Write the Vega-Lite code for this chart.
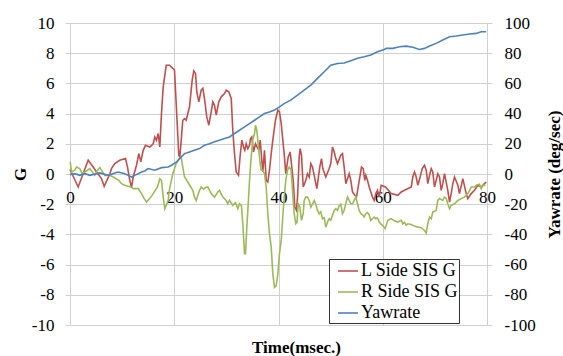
{
  "$schema": "https://vega.github.io/schema/vega-lite/v6.json",
  "width": 417,
  "height": 302,
  "autosize": {"type": "none"},
  "padding": {"left": 70, "top": 23, "right": 76, "bottom": 31},
  "background": "white",
  "config": {
    "view": {"stroke": null},
    "font": "Times New Roman, DejaVu Serif, serif",
    "axis": {
      "labelFont": "Times New Roman, DejaVu Serif, serif",
      "labelFontSize": 17,
      "labelColor": "#000",
      "labelFlush": false,
      "titleFont": "Times New Roman, DejaVu Serif, serif",
      "titleFontSize": 17,
      "titleFontWeight": "bold",
      "titleColor": "#000",
      "gridColor": "#d0d0d0",
      "gridWidth": 1,
      "tickColor": "#d0d0d0",
      "domain": false
    },
    "legend": {
      "labelFont": "Times New Roman, DejaVu Serif, serif"
    }
  },
  "datasets": {
    "sis": [
      {"time": 0, "series": "L Side SIS G", "value": 0.3},
      {"time": 1.57, "series": "L Side SIS G", "value": -0.86},
      {"time": 3.49, "series": "L Side SIS G", "value": 0.91},
      {"time": 4.45, "series": "L Side SIS G", "value": 0.46},
      {"time": 5.08, "series": "L Side SIS G", "value": 0.13},
      {"time": 6.04, "series": "L Side SIS G", "value": -0.3},
      {"time": 6.56, "series": "L Side SIS G", "value": -0.82},
      {"time": 7.64, "series": "L Side SIS G", "value": 0},
      {"time": 7.96, "series": "L Side SIS G", "value": 0.36},
      {"time": 8.59, "series": "L Side SIS G", "value": 0.69},
      {"time": 9.55, "series": "L Side SIS G", "value": 0.91},
      {"time": 10.65, "series": "L Side SIS G", "value": 1.02},
      {"time": 11.03, "series": "L Side SIS G", "value": 0.46},
      {"time": 11.47, "series": "L Side SIS G", "value": -0.42},
      {"time": 11.8, "series": "L Side SIS G", "value": -0.9},
      {"time": 12.12, "series": "L Side SIS G", "value": -0.2},
      {"time": 12.76, "series": "L Side SIS G", "value": 0.58},
      {"time": 13.2, "series": "L Side SIS G", "value": 1.35},
      {"time": 13.58, "series": "L Side SIS G", "value": 0.8},
      {"time": 14.04, "series": "L Side SIS G", "value": 1.57},
      {"time": 14.48, "series": "L Side SIS G", "value": 1.9},
      {"time": 15.31, "series": "L Side SIS G", "value": 1.79},
      {"time": 15.96, "series": "L Side SIS G", "value": 2.0},
      {"time": 16.27, "series": "L Side SIS G", "value": 2.45},
      {"time": 16.59, "series": "L Side SIS G", "value": 2.24},
      {"time": 16.92, "series": "L Side SIS G", "value": 2.68},
      {"time": 17.23, "series": "L Side SIS G", "value": 1.79},
      {"time": 17.55, "series": "L Side SIS G", "value": 4.0},
      {"time": 17.88, "series": "L Side SIS G", "value": 5.77},
      {"time": 18.46, "series": "L Side SIS G", "value": 7.2},
      {"time": 19.09, "series": "L Side SIS G", "value": 7.2},
      {"time": 19.72, "series": "L Side SIS G", "value": 7.0},
      {"time": 20.05, "series": "L Side SIS G", "value": 6.88},
      {"time": 20.87, "series": "L Side SIS G", "value": 1.24},
      {"time": 21.07, "series": "L Side SIS G", "value": 1.13},
      {"time": 21.64, "series": "L Side SIS G", "value": 3.56},
      {"time": 21.97, "series": "L Side SIS G", "value": 3.67},
      {"time": 22.29, "series": "L Side SIS G", "value": 3.56},
      {"time": 22.93, "series": "L Side SIS G", "value": 4.45},
      {"time": 23.44, "series": "L Side SIS G", "value": 6.22},
      {"time": 23.75, "series": "L Side SIS G", "value": 6.83},
      {"time": 24.08, "series": "L Side SIS G", "value": 6.66},
      {"time": 24.33, "series": "L Side SIS G", "value": 5.44},
      {"time": 24.71, "series": "L Side SIS G", "value": 4.78},
      {"time": 25.17, "series": "L Side SIS G", "value": 5.55},
      {"time": 25.48, "series": "L Side SIS G", "value": 5.67},
      {"time": 25.8, "series": "L Side SIS G", "value": 5.0},
      {"time": 26.24, "series": "L Side SIS G", "value": 3.78},
      {"time": 26.63, "series": "L Side SIS G", "value": 3.23},
      {"time": 27.09, "series": "L Side SIS G", "value": 4.11},
      {"time": 27.4, "series": "L Side SIS G", "value": 4.78},
      {"time": 27.72, "series": "L Side SIS G", "value": 4.56},
      {"time": 28.05, "series": "L Side SIS G", "value": 3.9},
      {"time": 28.55, "series": "L Side SIS G", "value": 4.78},
      {"time": 29.01, "series": "L Side SIS G", "value": 5.11},
      {"time": 29.64, "series": "L Side SIS G", "value": 5.33},
      {"time": 29.97, "series": "L Side SIS G", "value": 5.55},
      {"time": 30.47, "series": "L Side SIS G", "value": 5.44},
      {"time": 30.93, "series": "L Side SIS G", "value": 5.0},
      {"time": 31.23, "series": "L Side SIS G", "value": 2.9},
      {"time": 31.56, "series": "L Side SIS G", "value": 1.35},
      {"time": 31.88, "series": "L Side SIS G", "value": 0.13},
      {"time": 32.33, "series": "L Side SIS G", "value": -0.09},
      {"time": 32.65, "series": "L Side SIS G", "value": 1.24},
      {"time": 32.96, "series": "L Side SIS G", "value": 2.24},
      {"time": 33.29, "series": "L Side SIS G", "value": 1.79},
      {"time": 33.53, "series": "L Side SIS G", "value": 1.57},
      {"time": 33.8, "series": "L Side SIS G", "value": 2.0},
      {"time": 34.11, "series": "L Side SIS G", "value": 1.68},
      {"time": 34.44, "series": "L Side SIS G", "value": 1.9},
      {"time": 34.63, "series": "L Side SIS G", "value": 2.35},
      {"time": 34.88, "series": "L Side SIS G", "value": 2.45},
      {"time": 35.2, "series": "L Side SIS G", "value": 1.46},
      {"time": 35.59, "series": "L Side SIS G", "value": 2.0},
      {"time": 36.22, "series": "L Side SIS G", "value": 1.57},
      {"time": 36.49, "series": "L Side SIS G", "value": 2.24},
      {"time": 36.8, "series": "L Side SIS G", "value": 0.91},
      {"time": 36.99, "series": "L Side SIS G", "value": 0.13},
      {"time": 37.31, "series": "L Side SIS G", "value": 1.57},
      {"time": 37.64, "series": "L Side SIS G", "value": -0.42},
      {"time": 37.95, "series": "L Side SIS G", "value": -0.53},
      {"time": 38.27, "series": "L Side SIS G", "value": 0.25},
      {"time": 38.6, "series": "L Side SIS G", "value": 1.35},
      {"time": 38.91, "series": "L Side SIS G", "value": 2.24},
      {"time": 39.42, "series": "L Side SIS G", "value": 3.56},
      {"time": 39.87, "series": "L Side SIS G", "value": 4.23},
      {"time": 40.19, "series": "L Side SIS G", "value": 4.11},
      {"time": 40.52, "series": "L Side SIS G", "value": 3.34},
      {"time": 40.77, "series": "L Side SIS G", "value": 2.45},
      {"time": 41.09, "series": "L Side SIS G", "value": 1.35},
      {"time": 41.4, "series": "L Side SIS G", "value": 0.02},
      {"time": 41.86, "series": "L Side SIS G", "value": 1.13},
      {"time": 42.24, "series": "L Side SIS G", "value": 1.46},
      {"time": 42.82, "series": "L Side SIS G", "value": -0.42},
      {"time": 43.13, "series": "L Side SIS G", "value": -2.19},
      {"time": 43.45, "series": "L Side SIS G", "value": -2.41},
      {"time": 43.65, "series": "L Side SIS G", "value": -1.53},
      {"time": 43.97, "series": "L Side SIS G", "value": 1.13},
      {"time": 44.16, "series": "L Side SIS G", "value": 1.68},
      {"time": 44.41, "series": "L Side SIS G", "value": 1.24},
      {"time": 44.74, "series": "L Side SIS G", "value": -0.86},
      {"time": 45.24, "series": "L Side SIS G", "value": -0.42},
      {"time": 45.56, "series": "L Side SIS G", "value": 0.02},
      {"time": 45.89, "series": "L Side SIS G", "value": -0.2},
      {"time": 46.2, "series": "L Side SIS G", "value": 0.69},
      {"time": 46.52, "series": "L Side SIS G", "value": 0.46},
      {"time": 46.85, "series": "L Side SIS G", "value": -0.09},
      {"time": 47.35, "series": "L Side SIS G", "value": -0.97},
      {"time": 47.62, "series": "L Side SIS G", "value": -0.31},
      {"time": 47.92, "series": "L Side SIS G", "value": 0.46},
      {"time": 48.25, "series": "L Side SIS G", "value": 1.02},
      {"time": 48.5, "series": "L Side SIS G", "value": 0.36},
      {"time": 49.07, "series": "L Side SIS G", "value": -0.2},
      {"time": 49.73, "series": "L Side SIS G", "value": 0.36},
      {"time": 50.03, "series": "L Side SIS G", "value": 0.69},
      {"time": 50.36, "series": "L Side SIS G", "value": 1.79},
      {"time": 50.69, "series": "L Side SIS G", "value": 1.46},
      {"time": 50.99, "series": "L Side SIS G", "value": 1.02},
      {"time": 51.32, "series": "L Side SIS G", "value": 0.69},
      {"time": 51.95, "series": "L Side SIS G", "value": 1.24},
      {"time": 52.28, "series": "L Side SIS G", "value": 1.35},
      {"time": 52.6, "series": "L Side SIS G", "value": 0.46},
      {"time": 52.91, "series": "L Side SIS G", "value": -0.64},
      {"time": 53.56, "series": "L Side SIS G", "value": 0.02},
      {"time": 53.87, "series": "L Side SIS G", "value": -0.42},
      {"time": 54.2, "series": "L Side SIS G", "value": -1.19},
      {"time": 54.64, "series": "L Side SIS G", "value": -1.41},
      {"time": 54.96, "series": "L Side SIS G", "value": -1.53},
      {"time": 55.29, "series": "L Side SIS G", "value": -0.86},
      {"time": 55.6, "series": "L Side SIS G", "value": -0.2},
      {"time": 55.92, "series": "L Side SIS G", "value": 0.46},
      {"time": 56.25, "series": "L Side SIS G", "value": 0.36},
      {"time": 56.56, "series": "L Side SIS G", "value": -0.42},
      {"time": 56.75, "series": "L Side SIS G", "value": -0.09},
      {"time": 57.07, "series": "L Side SIS G", "value": -0.42},
      {"time": 57.4, "series": "L Side SIS G", "value": -0.86},
      {"time": 58.03, "series": "L Side SIS G", "value": -1.53},
      {"time": 58.36, "series": "L Side SIS G", "value": -1.75},
      {"time": 58.67, "series": "L Side SIS G", "value": -1.3},
      {"time": 58.99, "series": "L Side SIS G", "value": -1.08},
      {"time": 59.32, "series": "L Side SIS G", "value": -1.53},
      {"time": 59.7, "series": "L Side SIS G", "value": -0.75},
      {"time": 60.53, "series": "L Side SIS G", "value": -0.86},
      {"time": 61.62, "series": "L Side SIS G", "value": -1.3},
      {"time": 62.89, "series": "L Side SIS G", "value": -1.41},
      {"time": 63.54, "series": "L Side SIS G", "value": -1.19},
      {"time": 64.17, "series": "L Side SIS G", "value": -1.08},
      {"time": 65.46, "series": "L Side SIS G", "value": -0.86},
      {"time": 65.77, "series": "L Side SIS G", "value": -0.2},
      {"time": 66.09, "series": "L Side SIS G", "value": 0.13},
      {"time": 66.42, "series": "L Side SIS G", "value": -0.2},
      {"time": 66.73, "series": "L Side SIS G", "value": -0.75},
      {"time": 67.18, "series": "L Side SIS G", "value": -0.2},
      {"time": 67.57, "series": "L Side SIS G", "value": 0.36},
      {"time": 68.01, "series": "L Side SIS G", "value": 0.58},
      {"time": 68.34, "series": "L Side SIS G", "value": 0.25},
      {"time": 68.64, "series": "L Side SIS G", "value": -0.64},
      {"time": 68.97, "series": "L Side SIS G", "value": -0.09},
      {"time": 69.3, "series": "L Side SIS G", "value": 0.36},
      {"time": 69.6, "series": "L Side SIS G", "value": 0.13},
      {"time": 69.93, "series": "L Side SIS G", "value": -0.86},
      {"time": 70.25, "series": "L Side SIS G", "value": -0.42},
      {"time": 70.56, "series": "L Side SIS G", "value": 0.02},
      {"time": 70.89, "series": "L Side SIS G", "value": -0.2},
      {"time": 71.21, "series": "L Side SIS G", "value": -1.08},
      {"time": 71.52, "series": "L Side SIS G", "value": -0.64},
      {"time": 71.85, "series": "L Side SIS G", "value": 0.02},
      {"time": 72.48, "series": "L Side SIS G", "value": -1.08},
      {"time": 72.81, "series": "L Side SIS G", "value": -1.86},
      {"time": 73.13, "series": "L Side SIS G", "value": -1.3},
      {"time": 73.44, "series": "L Side SIS G", "value": -0.64},
      {"time": 73.77, "series": "L Side SIS G", "value": -0.2},
      {"time": 74.4, "series": "L Side SIS G", "value": -0.75},
      {"time": 74.72, "series": "L Side SIS G", "value": -1.3},
      {"time": 75.36, "series": "L Side SIS G", "value": -0.31},
      {"time": 76.01, "series": "L Side SIS G", "value": -1.3},
      {"time": 76.32, "series": "L Side SIS G", "value": -1.63},
      {"time": 76.97, "series": "L Side SIS G", "value": -1.3},
      {"time": 77.6, "series": "L Side SIS G", "value": -1.08},
      {"time": 78.24, "series": "L Side SIS G", "value": -0.75},
      {"time": 78.89, "series": "L Side SIS G", "value": -0.86},
      {"time": 79.52, "series": "L Side SIS G", "value": -0.64},
      {"time": 79.85, "series": "L Side SIS G", "value": -0.53},
      {"time": 0.04, "series": "R Side SIS G", "value": 0.8},
      {"time": 0.29, "series": "R Side SIS G", "value": 0.13},
      {"time": 0.92, "series": "R Side SIS G", "value": 0.25},
      {"time": 1.25, "series": "R Side SIS G", "value": 0.46},
      {"time": 1.88, "series": "R Side SIS G", "value": 0.36},
      {"time": 2.34, "series": "R Side SIS G", "value": 0.02},
      {"time": 3.36, "series": "R Side SIS G", "value": 0.25},
      {"time": 3.8, "series": "R Side SIS G", "value": 0.36},
      {"time": 4.76, "series": "R Side SIS G", "value": -0.09},
      {"time": 5.28, "series": "R Side SIS G", "value": 0.25},
      {"time": 5.72, "series": "R Side SIS G", "value": 0.42},
      {"time": 6.68, "series": "R Side SIS G", "value": -0.09},
      {"time": 7.64, "series": "R Side SIS G", "value": -0.09},
      {"time": 8.29, "series": "R Side SIS G", "value": -0.2},
      {"time": 9.36, "series": "R Side SIS G", "value": -0.42},
      {"time": 9.88, "series": "R Side SIS G", "value": -0.64},
      {"time": 10.51, "series": "R Side SIS G", "value": -0.75},
      {"time": 11.66, "series": "R Side SIS G", "value": -0.86},
      {"time": 12.12, "series": "R Side SIS G", "value": -0.97},
      {"time": 13.08, "series": "R Side SIS G", "value": -0.97},
      {"time": 13.72, "series": "R Side SIS G", "value": -1.3},
      {"time": 14.24, "series": "R Side SIS G", "value": -1.63},
      {"time": 14.68, "series": "R Side SIS G", "value": -1.86},
      {"time": 15.5, "series": "R Side SIS G", "value": -1.53},
      {"time": 15.96, "series": "R Side SIS G", "value": -1.3},
      {"time": 16.79, "series": "R Side SIS G", "value": -0.86},
      {"time": 17.23, "series": "R Side SIS G", "value": -0.31},
      {"time": 17.55, "series": "R Side SIS G", "value": -0.42},
      {"time": 17.88, "series": "R Side SIS G", "value": -1.53},
      {"time": 18.19, "series": "R Side SIS G", "value": -2.3},
      {"time": 18.84, "series": "R Side SIS G", "value": -1.75},
      {"time": 19.09, "series": "R Side SIS G", "value": -1.0},
      {"time": 19.72, "series": "R Side SIS G", "value": 0.02},
      {"time": 20.37, "series": "R Side SIS G", "value": 0.69},
      {"time": 21.01, "series": "R Side SIS G", "value": 1.02},
      {"time": 21.33, "series": "R Side SIS G", "value": 1.13},
      {"time": 21.64, "series": "R Side SIS G", "value": 0.46},
      {"time": 21.97, "series": "R Side SIS G", "value": -0.2},
      {"time": 22.6, "series": "R Side SIS G", "value": -0.53},
      {"time": 23.56, "series": "R Side SIS G", "value": -1.08},
      {"time": 23.88, "series": "R Side SIS G", "value": -1.53},
      {"time": 24.21, "series": "R Side SIS G", "value": -1.75},
      {"time": 24.84, "series": "R Side SIS G", "value": -1.08},
      {"time": 25.17, "series": "R Side SIS G", "value": -0.86},
      {"time": 25.61, "series": "R Side SIS G", "value": -1.0},
      {"time": 26.0, "series": "R Side SIS G", "value": -0.9},
      {"time": 26.44, "series": "R Side SIS G", "value": -0.86},
      {"time": 27.09, "series": "R Side SIS G", "value": -1.3},
      {"time": 27.72, "series": "R Side SIS G", "value": -1.53},
      {"time": 28.36, "series": "R Side SIS G", "value": -1.19},
      {"time": 28.68, "series": "R Side SIS G", "value": -1.08},
      {"time": 29.31, "series": "R Side SIS G", "value": -1.53},
      {"time": 29.97, "series": "R Side SIS G", "value": -1.75},
      {"time": 30.27, "series": "R Side SIS G", "value": -1.97},
      {"time": 30.6, "series": "R Side SIS G", "value": -1.75},
      {"time": 31.23, "series": "R Side SIS G", "value": -2.08},
      {"time": 31.75, "series": "R Side SIS G", "value": -1.9},
      {"time": 32.19, "series": "R Side SIS G", "value": -2.3},
      {"time": 32.52, "series": "R Side SIS G", "value": -1.97},
      {"time": 32.9, "series": "R Side SIS G", "value": -2.1},
      {"time": 33.15, "series": "R Side SIS G", "value": -3.29},
      {"time": 33.48, "series": "R Side SIS G", "value": -5.28},
      {"time": 33.67, "series": "R Side SIS G", "value": -5.28},
      {"time": 33.92, "series": "R Side SIS G", "value": -3.52},
      {"time": 34.19, "series": "R Side SIS G", "value": -1.97},
      {"time": 34.44, "series": "R Side SIS G", "value": -0.42},
      {"time": 34.76, "series": "R Side SIS G", "value": 1.13},
      {"time": 35.07, "series": "R Side SIS G", "value": 2.24},
      {"time": 35.4, "series": "R Side SIS G", "value": 2.68},
      {"time": 35.59, "series": "R Side SIS G", "value": 3.23},
      {"time": 35.84, "series": "R Side SIS G", "value": 2.9},
      {"time": 36.03, "series": "R Side SIS G", "value": 2.24},
      {"time": 36.22, "series": "R Side SIS G", "value": 1.57},
      {"time": 36.49, "series": "R Side SIS G", "value": 0.69},
      {"time": 36.68, "series": "R Side SIS G", "value": 0.25},
      {"time": 36.99, "series": "R Side SIS G", "value": 0.25},
      {"time": 37.31, "series": "R Side SIS G", "value": 0.02},
      {"time": 37.64, "series": "R Side SIS G", "value": -0.86},
      {"time": 37.95, "series": "R Side SIS G", "value": -2.63},
      {"time": 38.27, "series": "R Side SIS G", "value": -3.95},
      {"time": 38.6, "series": "R Side SIS G", "value": -4.84},
      {"time": 38.91, "series": "R Side SIS G", "value": -6.61},
      {"time": 39.23, "series": "R Side SIS G", "value": -7.5},
      {"time": 39.55, "series": "R Side SIS G", "value": -7.4},
      {"time": 39.87, "series": "R Side SIS G", "value": -6.61},
      {"time": 40.19, "series": "R Side SIS G", "value": -5.28},
      {"time": 40.52, "series": "R Side SIS G", "value": -4.4},
      {"time": 40.83, "series": "R Side SIS G", "value": -2.8},
      {"time": 41.09, "series": "R Side SIS G", "value": -1.53},
      {"time": 41.4, "series": "R Side SIS G", "value": -0.42},
      {"time": 41.73, "series": "R Side SIS G", "value": 0.25},
      {"time": 42.05, "series": "R Side SIS G", "value": 0.46},
      {"time": 42.4, "series": "R Side SIS G", "value": 0.3},
      {"time": 42.69, "series": "R Side SIS G", "value": -1.08},
      {"time": 43.01, "series": "R Side SIS G", "value": -2.63},
      {"time": 43.32, "series": "R Side SIS G", "value": -3.29},
      {"time": 43.55, "series": "R Side SIS G", "value": -3.2},
      {"time": 43.78, "series": "R Side SIS G", "value": -1.97},
      {"time": 44.09, "series": "R Side SIS G", "value": -2.19},
      {"time": 44.41, "series": "R Side SIS G", "value": -3.07},
      {"time": 44.74, "series": "R Side SIS G", "value": -2.63},
      {"time": 44.93, "series": "R Side SIS G", "value": -1.75},
      {"time": 45.24, "series": "R Side SIS G", "value": -1.53},
      {"time": 45.56, "series": "R Side SIS G", "value": -1.53},
      {"time": 45.89, "series": "R Side SIS G", "value": -1.75},
      {"time": 46.2, "series": "R Side SIS G", "value": -2.19},
      {"time": 46.52, "series": "R Side SIS G", "value": -2.0},
      {"time": 46.85, "series": "R Side SIS G", "value": -1.75},
      {"time": 47.16, "series": "R Side SIS G", "value": -2.0},
      {"time": 47.48, "series": "R Side SIS G", "value": -2.41},
      {"time": 47.81, "series": "R Side SIS G", "value": -2.63},
      {"time": 48.12, "series": "R Side SIS G", "value": -2.5},
      {"time": 48.44, "series": "R Side SIS G", "value": -2.96},
      {"time": 48.77, "series": "R Side SIS G", "value": -2.9},
      {"time": 49.07, "series": "R Side SIS G", "value": -3.52},
      {"time": 49.4, "series": "R Side SIS G", "value": -3.18},
      {"time": 49.73, "series": "R Side SIS G", "value": -2.96},
      {"time": 50.03, "series": "R Side SIS G", "value": -3.07},
      {"time": 50.36, "series": "R Side SIS G", "value": -2.74},
      {"time": 50.69, "series": "R Side SIS G", "value": -2.41},
      {"time": 50.99, "series": "R Side SIS G", "value": -2.3},
      {"time": 51.32, "series": "R Side SIS G", "value": -2.41},
      {"time": 51.65, "series": "R Side SIS G", "value": -2.08},
      {"time": 51.95, "series": "R Side SIS G", "value": -2.0},
      {"time": 52.28, "series": "R Side SIS G", "value": -2.63},
      {"time": 52.6, "series": "R Side SIS G", "value": -2.4},
      {"time": 52.91, "series": "R Side SIS G", "value": -1.97},
      {"time": 53.24, "series": "R Side SIS G", "value": -1.53},
      {"time": 53.56, "series": "R Side SIS G", "value": -1.75},
      {"time": 53.87, "series": "R Side SIS G", "value": -1.97},
      {"time": 54.2, "series": "R Side SIS G", "value": -1.97},
      {"time": 54.52, "series": "R Side SIS G", "value": -1.75},
      {"time": 54.83, "series": "R Side SIS G", "value": -1.53},
      {"time": 55.16, "series": "R Side SIS G", "value": -1.97},
      {"time": 55.48, "series": "R Side SIS G", "value": -2.41},
      {"time": 55.79, "series": "R Side SIS G", "value": -2.63},
      {"time": 56.12, "series": "R Side SIS G", "value": -2.7},
      {"time": 56.44, "series": "R Side SIS G", "value": -2.85},
      {"time": 56.75, "series": "R Side SIS G", "value": -2.63},
      {"time": 57.07, "series": "R Side SIS G", "value": -2.55},
      {"time": 57.4, "series": "R Side SIS G", "value": -2.7},
      {"time": 57.71, "series": "R Side SIS G", "value": -3.07},
      {"time": 58.03, "series": "R Side SIS G", "value": -2.96},
      {"time": 58.36, "series": "R Side SIS G", "value": -2.85},
      {"time": 58.67, "series": "R Side SIS G", "value": -2.96},
      {"time": 58.99, "series": "R Side SIS G", "value": -2.9},
      {"time": 59.32, "series": "R Side SIS G", "value": -3.18},
      {"time": 59.63, "series": "R Side SIS G", "value": -3.3},
      {"time": 59.95, "series": "R Side SIS G", "value": -3.4},
      {"time": 60.28, "series": "R Side SIS G", "value": -3.52},
      {"time": 60.45, "series": "R Side SIS G", "value": -3.62},
      {"time": 60.97, "series": "R Side SIS G", "value": -3.07},
      {"time": 61.62, "series": "R Side SIS G", "value": -2.96},
      {"time": 62.25, "series": "R Side SIS G", "value": -3.1},
      {"time": 62.89, "series": "R Side SIS G", "value": -3.18},
      {"time": 63.54, "series": "R Side SIS G", "value": -3.07},
      {"time": 63.85, "series": "R Side SIS G", "value": -3.3},
      {"time": 64.17, "series": "R Side SIS G", "value": -3.2},
      {"time": 64.5, "series": "R Side SIS G", "value": -3.4},
      {"time": 64.81, "series": "R Side SIS G", "value": -3.3},
      {"time": 65.46, "series": "R Side SIS G", "value": -3.34},
      {"time": 66.09, "series": "R Side SIS G", "value": -3.45},
      {"time": 66.73, "series": "R Side SIS G", "value": -3.52},
      {"time": 67.38, "series": "R Side SIS G", "value": -3.56},
      {"time": 68.01, "series": "R Side SIS G", "value": -3.74},
      {"time": 68.34, "series": "R Side SIS G", "value": -3.91},
      {"time": 68.64, "series": "R Side SIS G", "value": -3.29},
      {"time": 68.97, "series": "R Side SIS G", "value": -2.85},
      {"time": 69.3, "series": "R Side SIS G", "value": -2.96},
      {"time": 69.6, "series": "R Side SIS G", "value": -2.52},
      {"time": 70.25, "series": "R Side SIS G", "value": -2.41},
      {"time": 70.56, "series": "R Side SIS G", "value": -1.75},
      {"time": 70.89, "series": "R Side SIS G", "value": -1.63},
      {"time": 71.52, "series": "R Side SIS G", "value": -1.75},
      {"time": 71.85, "series": "R Side SIS G", "value": -1.53},
      {"time": 72.17, "series": "R Side SIS G", "value": -1.6},
      {"time": 72.48, "series": "R Side SIS G", "value": -1.97},
      {"time": 72.81, "series": "R Side SIS G", "value": -2.3},
      {"time": 73.13, "series": "R Side SIS G", "value": -2.08},
      {"time": 73.77, "series": "R Side SIS G", "value": -1.97},
      {"time": 74.4, "series": "R Side SIS G", "value": -1.75},
      {"time": 75.05, "series": "R Side SIS G", "value": -1.63},
      {"time": 75.68, "series": "R Side SIS G", "value": -1.53},
      {"time": 76.32, "series": "R Side SIS G", "value": -1.3},
      {"time": 76.64, "series": "R Side SIS G", "value": -1.08},
      {"time": 76.97, "series": "R Side SIS G", "value": -0.86},
      {"time": 77.6, "series": "R Side SIS G", "value": -0.86},
      {"time": 77.93, "series": "R Side SIS G", "value": -0.75},
      {"time": 78.56, "series": "R Side SIS G", "value": -0.68},
      {"time": 78.89, "series": "R Side SIS G", "value": -0.97},
      {"time": 79.2, "series": "R Side SIS G", "value": -0.75},
      {"time": 79.71, "series": "R Side SIS G", "value": -0.75}
    ],
    "yaw": [
      {"time": 0, "series": "Yawrate", "yawrate": -0.4},
      {"time": 0.92, "series": "Yawrate", "yawrate": 0.2},
      {"time": 1.88, "series": "Yawrate", "yawrate": -0.9},
      {"time": 2.84, "series": "Yawrate", "yawrate": 0.2},
      {"time": 3.8, "series": "Yawrate", "yawrate": -0.9},
      {"time": 5.72, "series": "Yawrate", "yawrate": 0.7},
      {"time": 7.33, "series": "Yawrate", "yawrate": -0.9},
      {"time": 8.59, "series": "Yawrate", "yawrate": 0.7},
      {"time": 9.25, "series": "Yawrate", "yawrate": 1.3},
      {"time": 10.51, "series": "Yawrate", "yawrate": 0.2},
      {"time": 11.17, "series": "Yawrate", "yawrate": -0.9},
      {"time": 11.8, "series": "Yawrate", "yawrate": -2.0},
      {"time": 12.43, "series": "Yawrate", "yawrate": -0.9},
      {"time": 13.72, "series": "Yawrate", "yawrate": 1.3},
      {"time": 14.35, "series": "Yawrate", "yawrate": 2.0},
      {"time": 15.0, "series": "Yawrate", "yawrate": 3.6},
      {"time": 16.27, "series": "Yawrate", "yawrate": 2.5},
      {"time": 17.55, "series": "Yawrate", "yawrate": 4.2},
      {"time": 18.84, "series": "Yawrate", "yawrate": 4.6},
      {"time": 19.47, "series": "Yawrate", "yawrate": 5.8},
      {"time": 20.43, "series": "Yawrate", "yawrate": 8.0},
      {"time": 21.01, "series": "Yawrate", "yawrate": 10.2},
      {"time": 21.97, "series": "Yawrate", "yawrate": 13.5},
      {"time": 22.93, "series": "Yawrate", "yawrate": 14.6},
      {"time": 23.88, "series": "Yawrate", "yawrate": 15.7},
      {"time": 24.84, "series": "Yawrate", "yawrate": 16.8},
      {"time": 25.8, "series": "Yawrate", "yawrate": 19.0},
      {"time": 26.76, "series": "Yawrate", "yawrate": 20.0},
      {"time": 27.72, "series": "Yawrate", "yawrate": 21.3},
      {"time": 28.68, "series": "Yawrate", "yawrate": 22.4},
      {"time": 29.64, "series": "Yawrate", "yawrate": 23.5},
      {"time": 30.6, "series": "Yawrate", "yawrate": 24.5},
      {"time": 31.56, "series": "Yawrate", "yawrate": 26.8},
      {"time": 32.52, "series": "Yawrate", "yawrate": 29.0},
      {"time": 33.48, "series": "Yawrate", "yawrate": 31.2},
      {"time": 34.44, "series": "Yawrate", "yawrate": 33.4},
      {"time": 35.4, "series": "Yawrate", "yawrate": 35.6},
      {"time": 36.35, "series": "Yawrate", "yawrate": 37.8},
      {"time": 37.31, "series": "Yawrate", "yawrate": 40.0},
      {"time": 38.27, "series": "Yawrate", "yawrate": 41.1},
      {"time": 39.23, "series": "Yawrate", "yawrate": 42.3},
      {"time": 40.19, "series": "Yawrate", "yawrate": 44.5},
      {"time": 41.15, "series": "Yawrate", "yawrate": 46.8},
      {"time": 42.36, "series": "Yawrate", "yawrate": 48.9},
      {"time": 43.65, "series": "Yawrate", "yawrate": 52.2},
      {"time": 44.93, "series": "Yawrate", "yawrate": 55.5},
      {"time": 46.2, "series": "Yawrate", "yawrate": 58.9},
      {"time": 47.48, "series": "Yawrate", "yawrate": 63.3},
      {"time": 48.77, "series": "Yawrate", "yawrate": 67.7},
      {"time": 50.03, "series": "Yawrate", "yawrate": 72.1},
      {"time": 51.32, "series": "Yawrate", "yawrate": 73.2},
      {"time": 52.6, "series": "Yawrate", "yawrate": 73.5},
      {"time": 53.87, "series": "Yawrate", "yawrate": 75.0},
      {"time": 55.16, "series": "Yawrate", "yawrate": 76.6},
      {"time": 56.44, "series": "Yawrate", "yawrate": 77.6},
      {"time": 57.71, "series": "Yawrate", "yawrate": 78.8},
      {"time": 58.99, "series": "Yawrate", "yawrate": 81.0},
      {"time": 60.28, "series": "Yawrate", "yawrate": 82.5},
      {"time": 60.66, "series": "Yawrate", "yawrate": 83.2},
      {"time": 61.93, "series": "Yawrate", "yawrate": 83.2},
      {"time": 63.21, "series": "Yawrate", "yawrate": 84.3},
      {"time": 64.5, "series": "Yawrate", "yawrate": 84.7},
      {"time": 65.77, "series": "Yawrate", "yawrate": 83.9},
      {"time": 67.05, "series": "Yawrate", "yawrate": 82.5},
      {"time": 68.01, "series": "Yawrate", "yawrate": 83.2},
      {"time": 68.97, "series": "Yawrate", "yawrate": 84.7},
      {"time": 70.25, "series": "Yawrate", "yawrate": 86.5},
      {"time": 71.52, "series": "Yawrate", "yawrate": 88.7},
      {"time": 72.81, "series": "Yawrate", "yawrate": 90.9},
      {"time": 74.09, "series": "Yawrate", "yawrate": 91.4},
      {"time": 75.36, "series": "Yawrate", "yawrate": 92.0},
      {"time": 76.64, "series": "Yawrate", "yawrate": 92.7},
      {"time": 77.93, "series": "Yawrate", "yawrate": 93.1},
      {"time": 78.89, "series": "Yawrate", "yawrate": 94.2},
      {"time": 79.85, "series": "Yawrate", "yawrate": 94.2}
    ]
  },
  "layer": [
    {
      "data": {"name": "sis"},
      "mark": {"type": "line", "strokeWidth": 1.6},
      "encoding": {
        "x": {
          "field": "time",
          "type": "quantitative",
          "scale": {"domain": [0, 80], "nice": false},
          "axis": {
            "orient": "bottom",
            "offset": -151,
            "values": [0, 20, 40, 60, 80],
            "grid": true,
            "ticks": false,
            "labelPadding": 15,
            "title": "Time(msec.)",
            "titleX": 226,
            "titleY": 178,
            "titleBaseline": "alphabetic",
            "titleAlign": "center"
          }
        },
        "y": {
          "field": "value",
          "type": "quantitative",
          "scale": {"domain": [-10, 10], "nice": false},
          "axis": {
            "orient": "left",
            "values": [-10, -8, -6, -4, -2, 0, 2, 4, 6, 8, 10],
            "grid": true,
            "tickSize": 5,
            "labelPadding": 11,
            "labelExpr": "'' + datum.value",
            "title": "G",
            "titleAngle": 270,
            "titleX": -45,
            "titleY": 151,
            "titleBaseline": "alphabetic",
            "titleAlign": "center"
          }
        },
        "color": {
          "field": "series",
          "type": "nominal",
          "scale": {
            "domain": ["L Side SIS G", "R Side SIS G", "Yawrate"],
            "range": ["#c0504d", "#9bbb59", "#4f81bd"]
          },
          "legend": {
            "orient": "none",
            "legendX": 259,
            "legendY": 236,
            "title": null,
            "symbolType": "stroke",
            "symbolSize": 400,
            "symbolStrokeWidth": 1.6,
            "symbolOffset": 7,
            "labelFontSize": 18,
            "labelColor": "#000",
            "labelOffset": 2,
            "labelLimit": 0,
            "rowPadding": 1,
            "padding": 1,
            "strokeColor": "#333",
            "fillColor": "white"
          }
        }
      }
    },
    {
      "data": {"name": "yaw"},
      "mark": {"type": "line", "strokeWidth": 1.6},
      "encoding": {
        "x": {"field": "time", "type": "quantitative"},
        "y": {
          "field": "yawrate",
          "type": "quantitative",
          "scale": {"domain": [-100, 100], "nice": false},
          "axis": {
            "orient": "right",
            "values": [-100, -80, -60, -40, -20, 0, 20, 40, 60, 80, 100],
            "grid": false,
            "tickSize": 5,
            "labelPadding": 12,
            "labelExpr": "'' + datum.value",
            "title": "Yawrate (deg/sec)",
            "titleAngle": 270,
            "titleX": 72,
            "titleY": 151,
            "titleBaseline": "alphabetic",
            "titleAlign": "center"
          }
        },
        "color": {"field": "series", "type": "nominal"}
      }
    }
  ],
  "resolve": {"scale": {"y": "independent"}}
}
